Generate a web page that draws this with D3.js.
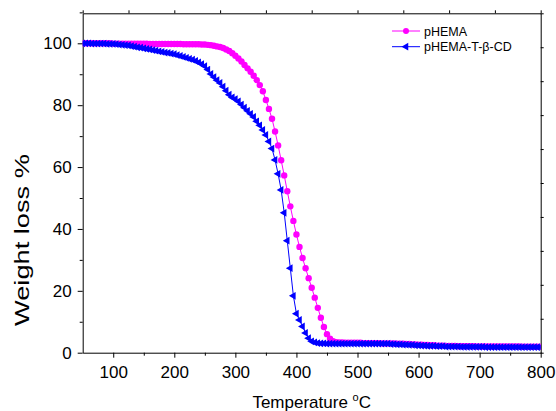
<!DOCTYPE html>
<html>
<head>
<meta charset="utf-8">
<script src="https://cdn.jsdelivr.net/npm/d3@7"></script>
<style>
  body { margin: 0; background: #fff; }
  svg text { font-family: "Liberation Sans", Arial, sans-serif; fill: #000; }
  .axis path, .axis line { stroke: #000; stroke-width: 1; }
</style>
</head>
<body>
<div id="chart"></div>
<script>
// temperature (°C), one reading every 5 degrees
var temps = [
  50, 55, 60, 65, 70, 75, 80, 85, 90, 95,
  100, 105, 110, 115, 120, 125, 130, 135, 140, 145,
  150, 155, 160, 165, 170, 175, 180, 185, 190, 195,
  200, 205, 210, 215, 220, 225, 230, 235, 240, 245,
  250, 255, 260, 265, 270, 275, 280, 285, 290, 295,
  300, 305, 310, 315, 320, 325, 330, 335, 340, 345,
  350, 355, 360, 365, 370, 375, 380, 385, 390, 395,
  400, 405, 410, 415, 420, 425, 430, 435, 440, 445,
  450, 455, 460, 465, 470, 475, 480, 485, 490, 495,
  500, 505, 510, 515, 520, 525, 530, 535, 540, 545,
  550, 555, 560, 565, 570, 575, 580, 585, 590, 595,
  600, 605, 610, 615, 620, 625, 630, 635, 640, 645,
  650, 655, 660, 665, 670, 675, 680, 685, 690, 695,
  700, 705, 710, 715, 720, 725, 730, 735, 740, 745,
  750, 755, 760, 765, 770, 775, 780, 785, 790, 795,
  800
];

var pHEMA = [
  100.0, 100.0, 100.0, 100.0, 100.0, 100.0, 100.0, 100.0, 100.0, 100.0,
  99.9, 99.9, 99.9, 99.9, 99.9, 99.9, 99.9, 99.9, 99.9, 99.9,
  99.9, 99.9, 99.8, 99.8, 99.8, 99.8, 99.8, 99.8, 99.8, 99.8,
  99.8, 99.8, 99.8, 99.7, 99.7, 99.7, 99.7, 99.7, 99.7, 99.6,
  99.6, 99.5, 99.4, 99.2, 99.0, 98.8, 98.5, 98.0, 97.5, 96.8,
  96.0, 95.1, 94.1, 93.0, 91.9, 90.8, 89.5, 88.1, 86.5, 84.5,
  81.7, 78.8, 75.6, 71.5, 67.0, 62.2, 57.3, 52.2, 47.3, 42.6,
  38.2, 34.2, 30.6, 27.3, 24.1, 21.0, 17.8, 14.5, 11.3, 8.3,
  6.0, 4.5, 3.7, 3.4, 3.3, 3.3, 3.2, 3.2, 3.2, 3.2,
  3.2, 3.2, 3.1, 3.1, 3.1, 3.1, 3.1, 3.1, 3.0, 3.0,
  3.0, 3.0, 3.0, 2.9, 2.9, 2.9, 2.8, 2.8, 2.7, 2.7,
  2.6, 2.6, 2.5, 2.5, 2.4, 2.4, 2.3, 2.3, 2.3, 2.2,
  2.2, 2.2, 2.2, 2.1, 2.1, 2.1, 2.1, 2.1, 2.1, 2.0,
  2.0, 2.0, 2.0, 2.0, 2.0, 2.0, 2.0, 2.0, 2.0, 2.0,
  2.0, 2.0, 2.0, 2.0, 1.9, 1.9, 1.9, 1.9, 1.9, 1.9,
  1.9
];

var pHEMA_T_bCD = [
  100.0, 100.0, 100.0, 99.9, 99.9, 99.9, 99.9, 99.9, 99.8, 99.8,
  99.8, 99.7, 99.6, 99.5, 99.4, 99.3, 99.1, 98.9, 98.7, 98.6,
  98.4, 98.2, 98.0, 97.8, 97.6, 97.4, 97.2, 97.0, 96.9, 96.7,
  96.5, 96.2, 95.9, 95.6, 95.3, 95.0, 94.7, 94.3, 93.8, 93.3,
  92.6, 91.5, 90.1, 89.1, 88.1, 87.2, 86.0, 84.7, 83.4, 82.5,
  82.0, 81.2, 80.2, 79.2, 78.2, 77.2, 76.2, 74.8, 73.5, 72.0,
  70.4, 68.3, 66.0, 62.3, 57.8, 52.6, 45.2, 36.2, 27.3, 18.4,
  12.6, 10.6, 8.5, 6.4, 4.7, 3.7, 3.3, 3.1, 3.0, 3.0,
  2.9, 2.9, 2.9, 2.9, 2.9, 2.9, 2.9, 2.9, 2.9, 2.9,
  2.9, 2.9, 2.9, 2.9, 2.9, 2.9, 2.9, 2.9, 2.9, 2.9,
  2.9, 2.8, 2.8, 2.7, 2.7, 2.6, 2.6, 2.5, 2.5, 2.4,
  2.4, 2.3, 2.3, 2.2, 2.2, 2.2, 2.1, 2.1, 2.1, 2.0,
  2.0, 2.0, 2.0, 2.0, 1.9, 1.9, 1.9, 1.9, 1.9, 1.9,
  1.9, 1.9, 1.8, 1.8, 1.8, 1.8, 1.8, 1.8, 1.8, 1.8,
  1.8, 1.8, 1.8, 1.8, 1.8, 1.8, 1.8, 1.8, 1.8, 1.8,
  1.8
];

var xTicks = [100, 200, 300, 400, 500, 600, 700, 800];
var xMinor = [150, 250, 350, 450, 550, 650, 750];
var yTicks = [0, 20, 40, 60, 80, 100];
var yMinor = [10, 30, 50, 70, 90, 110];

var seriesNames = ["pHEMA", "pHEMA-T-\u03b2-CD"];
var seriesColors = ["#ff00ff", "#0000ff"];

var WIDTH = 556, HEIGHT = 411;
var LEFT = 82.7, RIGHT = 540.7, TOP = 13.3, BOTTOM = 352.7;

var translate = function(x, y) { return "translate(" + x + "," + y + ")"; };

var svg = d3.select("#chart").append("svg")
  .attr("width", WIDTH)
  .attr("height", HEIGHT);

var xScale = d3.scaleLinear().domain([50, 800]).range([LEFT, RIGHT]);
var yScale = d3.scaleLinear().domain([0, 109.7]).range([BOTTOM, TOP]);

svg.append("defs").append("clipPath").attr("id", "plotclip")
  .append("rect")
  .attr("x", LEFT).attr("y", TOP)
  .attr("width", RIGHT - LEFT).attr("height", BOTTOM - TOP);

// minor ticks first, then major axes with labels
svg.append("g").attr("class", "axis")
  .attr("transform", translate(0, BOTTOM))
  .call(d3.axisBottom(xScale).tickValues(xMinor).tickSize(3).tickFormat(""))
  .select(".domain").remove();
svg.append("g").attr("class", "axis")
  .attr("transform", translate(LEFT, 0))
  .call(d3.axisLeft(yScale).tickValues(yMinor).tickSize(3).tickFormat(""))
  .select(".domain").remove();

svg.append("g").attr("class", "axis")
  .attr("transform", translate(0, BOTTOM))
  .call(d3.axisBottom(xScale).tickValues(xTicks).tickSize(5).tickPadding(8).tickSizeOuter(0))
  .selectAll("text").style("font-size", "17px");
svg.append("g").attr("class", "axis")
  .attr("transform", translate(LEFT, 0))
  .call(d3.axisLeft(yScale).tickValues(yTicks).tickSize(5).tickPadding(6).tickSizeOuter(0))
  .selectAll("text").style("font-size", "17px");

// top and right frame with unlabelled ticks
var topScale = d3.scaleLinear().domain([0, 10]).range([LEFT, RIGHT]);
var rightScale = d3.scaleLinear().domain([0, 10]).range([BOTTOM, TOP]);
svg.append("g").attr("class", "axis")
  .attr("transform", translate(0, TOP))
  .call(d3.axisTop(topScale).ticks(10).tickSize(3).tickSizeOuter(0).tickFormat(""));
svg.append("g").attr("class", "axis")
  .attr("transform", translate(RIGHT, 0))
  .call(d3.axisRight(rightScale).ticks(10).tickSize(3).tickSizeOuter(0).tickFormat(""));

// axis titles
var xTitle = svg.append("text")
  .attr("x", (LEFT + RIGHT) / 2)
  .attr("y", 408)
  .attr("text-anchor", "middle")
  .style("font-size", "17px");
xTitle.append("tspan").text("Temperature ");
xTitle.append("tspan").attr("dy", -7).style("font-size", "11px").text("o");
xTitle.append("tspan").attr("dy", 7).text("C");

svg.append("text")
  .attr("transform", translate(28.5, 240) + " rotate(-90)")
  .attr("text-anchor", "middle")
  .attr("textLength", 172)
  .attr("lengthAdjust", "spacingAndGlyphs")
  .style("font-size", "21px")
  .text("Weight loss %");

// curves
var plot = svg.append("g").attr("clip-path", "url(#plotclip)");
var allSeries = [pHEMA, pHEMA_T_bCD];

var line = d3.line()
  .x(function(d, i) { return xScale(temps[i]); })
  .y(function(d) { return yScale(d); });

var triangle = d3.symbol().type(d3.symbolTriangle).size(26);

allSeries.forEach(function(values, s) {
  var g = plot.append("g");
  g.append("path")
    .attr("d", line(values))
    .attr("fill", "none")
    .attr("stroke", seriesColors[s])
    .attr("stroke-width", 1);
  if (s === 0) {
    g.selectAll("circle").data(values).enter().append("circle")
      .attr("cx", function(d, i) { return xScale(temps[i]); })
      .attr("cy", function(d) { return yScale(d); })
      .attr("r", 3.2)
      .attr("fill", seriesColors[s]);
  } else {
    g.selectAll("path.mk").data(values).enter().append("path")
      .attr("class", "mk")
      .attr("d", triangle)
      .attr("transform", function(d, i) {
        return translate(xScale(temps[i]), yScale(d)) + " rotate(-90)";
      })
      .attr("fill", seriesColors[s]);
  }
});

// legend
var legend = svg.append("g");
seriesNames.forEach(function(name, s) {
  var ly = 31 + s * 15.7;
  legend.append("line")
    .attr("x1", 392).attr("x2", 420)
    .attr("y1", ly).attr("y2", ly)
    .attr("stroke", seriesColors[s]).attr("stroke-width", 1);
  if (s === 0) {
    legend.append("circle").attr("cx", 406).attr("cy", ly).attr("r", 3)
      .attr("fill", seriesColors[s]);
  } else {
    legend.append("path").attr("d", triangle)
      .attr("transform", translate(406, ly) + " rotate(-90)")
      .attr("fill", seriesColors[s]);
  }
  legend.append("text")
    .attr("x", 424).attr("y", ly + 4.5)
    .style("font-size", "12.5px")
    .text(name);
});
</script>
</body>
</html>
